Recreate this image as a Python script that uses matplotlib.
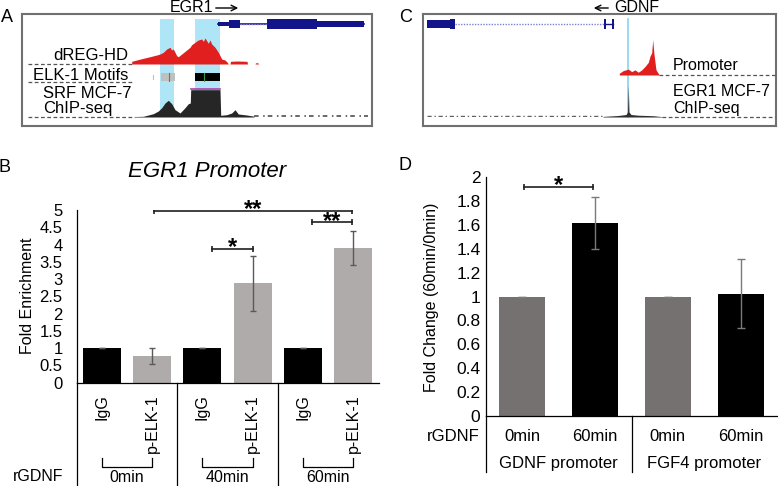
import matplotlib
matplotlib.use('Agg')
import matplotlib.pyplot as plt
from matplotlib.transforms import blended_transform_factory
import numpy as np

plt.rcParams['font.family'] = ['Liberation Sans', 'DejaVu Sans']

W, H = 778, 486

# panel B: EGR1 promoter ChIP
b_labels = ['IgG', 'p-ELK-1', 'IgG', 'p-ELK-1', 'IgG', 'p-ELK-1']
b_times = ['0min', '40min', '60min']
b_values = [1.0, 0.77, 1.0, 2.88, 1.0, 3.9]
b_errors = [0.0, 0.24, 0.0, 0.79, 0.0, 0.5]
b_colors = ['#000000', '#afabab'] * 3
b_sig = [(1.04, 4.98, 4.98, '**'), (2.19, 3.0, 3.88, '*'), (4.18, 4.98, 4.64, '**')]

# panel D: GDNF / FGF4 promoter
d_times = ['0min', '60min', '0min', '60min']
d_promoters = ['GDNF promoter', 'FGF4 promoter']
d_values = [1.0, 1.615, 1.0, 1.025]
d_errors = [0.0, 0.215, 0.0, 0.29]
d_colors = ['#767171', '#000000'] * 2
d_sig = [(0.02, 0.97, 1.92, '*')]

# panel A browser tracks (x = bin in the 350-bin window)
a_highlight = [(138, 152), (173, 198)]
dreg_pos = [109.7, 114.7, 121.3, 128, 134.7, 138, 141.3, 144.7, 148, 149.7, 151.3, 153,
            154.7, 156.3, 159.7, 164.7, 168, 169.7, 173, 176.3, 179.7, 181.3, 183, 186.3,
            188, 189.7, 193, 196.3, 199.7, 203, 205.3, 206.3, 208, 208.5, 215, 225, 225.5,
            233, 233.5, 236, 236.5]
dreg_val = [2.7, 4, 5.7, 7.3, 9, 10, 11.7, 15, 16.7, 14, 15, 11.7,
            8.3, 7.3, 10, 14, 16.7, 19.3, 21.7, 24, 25, 22.7, 26, 20.7,
            24, 20, 16.7, 11.7, 5, 4, 1.7, 0, 0, 2.7, 3, 2.7, 0,
            0, 1.2, 1.2, 0]
srf_pos = [113, 121.3, 131.3, 136.3, 139.7, 143, 146.3, 149.7, 153, 158, 163, 166.3, 168.3,
           168.7, 198, 198.7, 204.7, 209.7, 213, 216.3, 224.7, 232]
srf_val = [0.5, 0.7, 3.3, 6, 9.3, 14, 16.7, 13.3, 7.3, 4, 9.3, 13.3, 14,
           27.3, 27.3, 1.7, 2.3, 4, 7.3, 3, 2, 0.8]
srf_noise = (232, 346)
elk_motifs = [(139, 153, '#c0c0c0', 147), (173, 198, '#000000', 182)]
a_exons = [(196, 207, 1.5), (207, 218, 4), (245, 295, 5), (295, 342, 2.5)]
a_intron = (218, 245)

# panel C browser tracks
c_highlight = 205
prom_pos = [196.3, 200.3, 205.3, 208.7, 212, 215.3, 218.7, 222, 225.3, 227, 228.7, 229.7,
            231, 233, 236.3]
prom_val = [1.7, 4.3, 5.7, 3.3, 5, 2.7, 5, 8.3, 12.3, 18.3, 21.7, 34.3, 20, 5, 0]
egr1_pos = [180, 195, 203, 204.5, 205.3, 206, 208, 215, 230, 239]
egr1_val = [0.6, 1.5, 2.5, 5, 32, 5, 2.5, 1.8, 1.3, 0.4]
egr1_noise = (4, 180)
c_exons = [(4, 32, 3.5), (27, 32, 5), (181, 183, 5), (189, 191, 5)]
c_intron = (32, 182)

navy = '#14148a'
skyblue = '#aee6f8'


def px_rect(x0, y0, x1, y1):
    return [x0 / W, 1 - y1 / H, (x1 - x0) / W, (y1 - y0) / H]


def track_ax(x0, x1, ytop, ybase, ymax, xmax=350):
    t = fig.add_axes(px_rect(x0, ytop, x1, ybase))
    t.set_xlim(0, xmax)
    t.set_ylim(0, ymax)
    t.axis('off')
    t.patch.set_alpha(0)
    return t


fig = plt.figure(figsize=(W / 100, H / 100), dpi=100)

# ---------------- panel A ----------------
boxA = fig.add_axes(px_rect(22, 14, 372, 126))
boxA.set_xlim(0, 350)
boxA.set_ylim(0, 1)
boxA.set_xticks([])
boxA.set_yticks([])
for s in boxA.spines.values():
    s.set_color('#707070')
    s.set_linewidth(1.5)
for a, b in a_highlight:
    boxA.axvspan(a, b, ymin=0.08, ymax=0.955, color=skyblue, lw=0)

gA = track_ax(22, 372, 18, 30, 12)
gA.plot(a_intron, [6, 6], color='#8080d0', lw=1, ls=(0, (1, 1)))
for a, b, h in a_exons:
    gA.fill_between([a, b], 6 - h, 6 + h, color=navy, lw=0)
gA.plot([196, 342], [6, 6], color=navy, lw=1.2, zorder=0)

dA = track_ax(22, 372, 36, 64, 28)
dA.fill_between(dreg_pos, 0, dreg_val, color='#e21f1f', lw=0)

mA = track_ax(22, 372, 72, 82, 10)
for a, b, c, g in elk_motifs:
    mA.fill_between([a, b], 1, 9, color=c, lw=0)
    mA.plot([g, g], [1, 9], color='#3a9a3a', lw=0.8)
mA.plot([131, 131], [3, 7], color='#c0c0c0', lw=0.8)

sA = track_ax(22, 372, 88, 117, 29)
sA.fill_between(srf_pos, 0, srf_val, color='#262626', lw=0)
sA.plot([168.7, 198], [27.6, 27.6], color='#b040b0', lw=1.2)
sA.plot(srf_noise, [0.6, 0.6], color='#404040', lw=1.1, ls=(0, (3, 3, 1, 2)))

# ---------------- panel C ----------------
boxC = fig.add_axes(px_rect(423, 14, 776, 126))
boxC.set_xlim(0, 353)
boxC.set_ylim(0, 1)
boxC.set_xticks([])
boxC.set_yticks([])
for s in boxC.spines.values():
    s.set_color('#707070')
    s.set_linewidth(1.5)
boxC.axvline(c_highlight, ymin=0.08, ymax=0.955, color='#86d4f0', lw=1.2)

gC = track_ax(423, 776, 18, 30, 12, 353)
gC.plot(c_intron, [6, 6], color='#8080d0', lw=1, ls=(0, (1, 1)))
gC.plot([182, 190], [6, 6], color=navy, lw=1)
for a, b, h in c_exons:
    gC.fill_between([a, b], 6 - h, 6 + h, color=navy, lw=0)

pC = track_ax(423, 776, 38, 75, 36, 353)
pC.fill_between(prom_pos, 0, prom_val, color='#e21f1f', lw=0)

eC = track_ax(423, 776, 84, 117, 33, 353)
eC.fill_between(egr1_pos, 0, egr1_val, color='#303030', lw=0)
eC.plot(egr1_noise, [0.6, 0.6], color='#606060', lw=1.0, ls=(0, (3, 2, 1, 2)))

# ---------------- panel B bars ----------------
axB = fig.add_axes(px_rect(76.5, 210, 378.5, 382.7))
xb = np.arange(len(b_values))
axB.bar(xb, b_values, width=0.76, color=b_colors, yerr=b_errors, capsize=2.5,
        error_kw=dict(ecolor='#595959', elinewidth=1, capthick=1))
axB.set_xlim(-0.5, 5.5)
axB.set_ylim(0, 5)
yt = np.arange(0, 5.01, 0.5)
axB.set_yticks(yt)
axB.set_yticklabels(['%g' % v for v in yt])
axB.set_xticks([])
axB.tick_params(axis='y', length=0, pad=10, labelsize=12)
for s in ['top', 'right']:
    axB.spines[s].set_visible(False)
for s in ['left', 'bottom']:
    axB.spines[s].set_linewidth(0.9)
axB.patch.set_alpha(0)
for x0, x1, y, star in b_sig:
    axB.plot([x0, x1], [y, y], color='#202020', lw=1.2, marker='|', ms=5, mew=1.2)
    axB.text((x0 + x1) / 2, y + 0.02, star, ha='center', va='center', fontsize=17,
             fontweight='bold')

# ---------------- panel D bars ----------------
axD = fig.add_axes(px_rect(486, 177, 777, 416))
xd = np.arange(len(d_values))
axD.bar(xd, d_values, width=0.63, color=d_colors, yerr=d_errors, capsize=3,
        error_kw=dict(ecolor='#7a7a7a', elinewidth=1, capthick=1))
axD.set_xlim(-0.5, 3.5)
axD.set_ylim(0, 2)
ytd = np.arange(0, 2.01, 0.2)
axD.set_yticks(ytd)
axD.set_yticklabels(['%g' % round(v, 1) for v in ytd])
axD.set_xticks([])
axD.tick_params(axis='y', length=0, pad=4, labelsize=12.5)
for s in ['top', 'right']:
    axD.spines[s].set_visible(False)
for s in ['left', 'bottom']:
    axD.spines[s].set_linewidth(0.9)
axD.patch.set_alpha(0)
for x0, x1, y, star in d_sig:
    axD.plot([x0, x1], [y, y], color='#202020', lw=1.2, marker='|', ms=5, mew=1.2)
    axD.text((x0 + x1) / 2, y + 0.005, star, ha='center', va='center', fontsize=17,
             fontweight='bold')

# ---------------- overlay: labels, tables ----------------
ov = fig.add_axes([0, 0, 1, 1])
ov.set_xlim(0, W)
ov.set_ylim(H, 0)
ov.axis('off')
ov.patch.set_alpha(0)

for letter, x, y in [('A', 7, 17), ('C', 406, 17), ('B', 5, 167), ('D', 405, 165)]:
    ov.text(x, y, letter, fontsize=13, ha='center', va='center')

# panel A labels
ov.text(192, 8, 'EGR1', fontsize=11.5, ha='center', va='center')
ov.annotate('', xy=(241, 8), xytext=(213, 8),
            arrowprops=dict(arrowstyle='->', lw=1, color='black'))
dash = dict(color='#555555', lw=0.9, ls=(0, (3, 2)))
ov.plot([28, 132], [64, 64], **dash)
ov.plot([28, 133], [82, 82], **dash)
ov.plot([28, 135], [117, 117], **dash)
ov.text(128, 56, 'dREG-HD', fontsize=12, ha='right', va='center')
ov.text(128, 75, 'ELK-1 Motifs', fontsize=12, ha='right', va='center')
ov.text(43, 94, 'SRF MCF-7', fontsize=12, ha='left', va='center')
ov.text(43, 108, 'ChIP-seq', fontsize=12, ha='left', va='center')

# panel C labels
ov.annotate('', xy=(591, 8), xytext=(611, 8),
            arrowprops=dict(arrowstyle='->', lw=1, color='black'))
ov.text(637, 8, 'GDNF', fontsize=11.5, ha='center', va='center')
ov.plot([659, 775], [75, 75], **dash)
ov.plot([662, 775], [117, 117], **dash)
ov.text(673, 65, 'Promoter', fontsize=11.5, ha='left', va='center')
ov.text(673, 91, 'EGR1 MCF-7', fontsize=11.5, ha='left', va='center')
ov.text(673, 108, 'ChIP-seq', fontsize=11.5, ha='left', va='center')

# panel B title, axis label, table
ov.text(207, 171, 'EGR1 Promoter', fontsize=16, style='italic', ha='center', va='center')
ov.text(28, 296, 'Fold Enrichment', fontsize=11.5, rotation=90, ha='center', va='center')
tB = blended_transform_factory(axB.transData, ov.transData)
for xv in [-0.5, 1.5, 3.5]:
    ov.plot([xv, xv], [382.7, 486], color='black', lw=0.9, transform=tB)
for i, lab in enumerate(b_labels):
    ov.text(i, 394, lab, rotation=90, ha='center', va='top', fontsize=11.5, transform=tB)
for k, t in enumerate(b_times):
    ov.plot([2 * k, 2 * k, 2 * k + 1, 2 * k + 1], [458, 467, 467, 458], color='black',
            lw=0.9, transform=tB)
    ov.text(2 * k + 0.5, 477, t, ha='center', va='center', fontsize=11.5, transform=tB)
ov.text(38, 476, 'rGDNF', ha='center', va='center', fontsize=11.5)

# panel D axis label, table
ov.text(432, 297, 'Fold Change (60min/0min)', fontsize=11.5, rotation=90,
        ha='center', va='center')
tD = blended_transform_factory(axD.transData, ov.transData)
for xv in [-0.5, 1.5]:
    ov.plot([xv, xv], [416, 472], color='black', lw=0.9, transform=tD)
for i, t in enumerate(d_times):
    ov.text(i, 436, t, ha='center', va='center', fontsize=12, transform=tD)
for k, p in enumerate(d_promoters):
    ov.text(2 * k + 0.5, 463, p, ha='center', va='center', fontsize=12, transform=tD)
ov.text(480, 436, 'rGDNF', ha='right', va='center', fontsize=12)

fig.savefig('out.png', dpi=100)
